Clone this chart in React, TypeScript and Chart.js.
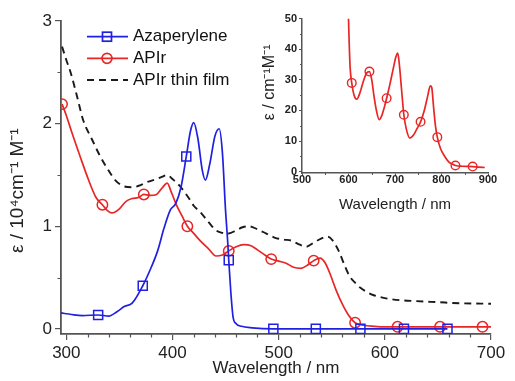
import React, { useEffect, useRef } from "react";
import { Chart, registerables } from "chart.js";

Chart.register(...registerables);

// ---------- Main chart data ----------
const azaX = [295, 305, 315, 330, 340, 348, 355, 362, 372, 380, 386, 392, 398, 403, 408, 413, 417, 420, 424, 428, 431, 435, 440, 444, 447, 450, 452, 453, 455, 457, 460, 465, 475, 495, 535, 577, 618, 659];
const azaY = [0.155, 0.14, 0.13, 0.135, 0.125, 0.17, 0.22, 0.25, 0.42, 0.6, 0.76, 0.98, 1.16, 1.22, 1.38, 1.68, 1.93, 2.01, 1.85, 1.55, 1.45, 1.6, 1.88, 1.95, 1.72, 1.15, 0.85, 0.67, 0.35, 0.12, 0.05, 0.025, 0.01, 0.0, 0.0, 0.0, 0.0, 0.0];
const azaMarkers = [330, 372, 413, 453, 495, 535, 577, 618, 659];

const apirX = [296, 300, 305, 313, 321, 328, 334, 339, 343, 350, 356, 362, 368, 373, 379, 385, 390, 395, 399, 404, 409, 414, 420, 426, 434, 441, 447, 453, 460, 467, 474, 480, 487, 493, 500, 507, 514, 521, 527, 533, 539, 544, 549, 554, 560, 566, 572, 580, 590, 600, 612, 652, 692, 700];
const apirY = [2.19, 2.08, 1.92, 1.68, 1.45, 1.28, 1.21, 1.15, 1.13, 1.17, 1.24, 1.27, 1.28, 1.31, 1.3, 1.31, 1.37, 1.42, 1.33, 1.2, 1.1, 1.0, 0.93, 0.86, 0.78, 0.71, 0.72, 0.76, 0.8, 0.82, 0.81, 0.77, 0.72, 0.68, 0.66, 0.64, 0.6, 0.59, 0.62, 0.665, 0.69, 0.64, 0.52, 0.38, 0.24, 0.13, 0.06, 0.035, 0.025, 0.02, 0.02, 0.02, 0.02, 0.02];
const apirMarkers = [296, 334, 373, 414, 453, 493, 533, 572, 612, 652, 692];

const filmX = [296, 300, 304, 310, 316, 324, 332, 340, 346, 354, 362, 370, 376, 385, 390, 395, 400, 407, 415, 420, 426, 434, 441, 447, 453, 460, 466, 472, 480, 488, 496, 505, 512, 520, 526, 533, 540, 546, 551, 557, 562, 567, 572, 577, 583, 589, 600, 614, 630, 650, 670, 700];
const filmY = [2.75, 2.62, 2.5, 2.27, 2.03, 1.85, 1.68, 1.54, 1.45, 1.39, 1.38, 1.4, 1.43, 1.46, 1.48, 1.5, 1.46, 1.39, 1.28, 1.2, 1.14, 1.04, 0.96, 0.935, 0.93, 0.96, 0.99, 1.0, 0.97, 0.93, 0.89, 0.87, 0.86, 0.82, 0.8, 0.84, 0.88, 0.9, 0.86, 0.75, 0.62, 0.51, 0.45, 0.4, 0.36, 0.33, 0.3, 0.28, 0.27, 0.26, 0.25, 0.245];

const mainXTicks = [300, 400, 500, 600, 700];
const mainXMinor = [320, 340, 360, 380, 420, 440, 460, 480, 520, 540, 560, 580, 620, 640, 660, 680];
const mainYTicks = [0, 1, 2, 3];
const mainYMinor = [0.5, 1.5, 2.5];

const seriesNames = ["Azaperylene", "APIr", "APIr thin film"];

// ---------- Inset data ----------
const insetX = [600, 601.5, 603.5, 607, 612, 618, 624, 632, 639, 645, 650, 655, 660, 666, 672, 677, 682, 689, 696, 702, 706, 710, 714, 719, 725, 732, 739, 747, 755, 763, 770, 776, 779, 783, 787, 791, 798, 807, 815, 823, 830, 845, 855, 867, 880, 893];
const insetY = [50, 42, 34, 29, 25, 23.7, 25.5, 29.5, 32.2, 32.7, 30, 24.5, 20, 17, 18.5, 21, 24, 28.5, 33.5, 37.5, 38.7, 34, 27, 18.6, 13.5, 11, 11.8, 14, 16.3, 20, 24.5, 28, 27.5, 21, 15, 11.3, 7.5, 5, 3.3, 2.5, 2.05, 1.8, 1.75, 1.7, 1.5, 1.4];
const insetMarkers = [607, 645, 682, 719, 755, 791, 830, 867];

const insetXTicks = [500, 600, 700, 800, 900];
const insetXMinor = [550, 650, 750, 850];
const insetYTicks = [0, 10, 20, 30, 40, 50];
const insetYMinor = [5, 15, 25, 35, 45];

const BLUE = "#2020e0";
const RED = "#e82626";
const BLACK = "#1a1a1a";
const AXIS = "#555555";
const FONT = "'Liberation Sans', Arial, sans-serif";

const toPts = (xs: number[], ys: number[]) => xs.map((x, i) => ({ x, y: ys[i] }));

const minorTicksPlugin = {
  id: "minorTicks",
  afterDraw(chart: any, _args: any, opts: any) {
    const { ctx } = chart;
    const xs = chart.scales.x;
    const ys = chart.scales.y;
    ctx.save();
    ctx.strokeStyle = opts.color || AXIS;
    ctx.lineWidth = opts.width || 1;
    ctx.beginPath();
    (opts.x || []).forEach((v: number) => {
      const px = Math.round(xs.getPixelForValue(v)) + 0.5;
      ctx.moveTo(px, xs.top);
      ctx.lineTo(px, xs.top + opts.len);
    });
    (opts.y || []).forEach((v: number) => {
      const py = Math.round(ys.getPixelForValue(v)) + 0.5;
      ctx.moveTo(ys.right, py);
      ctx.lineTo(ys.right - opts.len, py);
    });
    ctx.stroke();
    ctx.restore();
  },
};

const legendPlugin = {
  id: "customLegend",
  afterDraw(chart: any, _args: any, opts: any) {
    if (!opts || !opts.show) return;
    const { ctx } = chart;
    const x0 = 87, x1 = 128, xm = 107, xt = 133;
    const rows = [36.7, 58.3, 80];
    ctx.save();
    chart.data.datasets.forEach((ds: any, i: number) => {
      const y = rows[i];
      ctx.strokeStyle = ds.borderColor;
      ctx.lineWidth = ds.borderWidth;
      ctx.setLineDash(ds.borderDash || []);
      ctx.beginPath();
      ctx.moveTo(x0, y);
      ctx.lineTo(x1, y);
      ctx.stroke();
      ctx.setLineDash([]);
      if (ds.pointStyle === "rect") {
        ctx.strokeRect(xm - 4.5, y - 4.5, 9, 9);
      } else if (ds.pointStyle === "circle") {
        ctx.beginPath();
        ctx.arc(xm, y, 5, 0, Math.PI * 2);
        ctx.stroke();
      }
      ctx.fillStyle = "#111";
      ctx.font = `17px ${FONT}`;
      ctx.textBaseline = "middle";
      ctx.textAlign = "left";
      ctx.fillText(ds.label, xt, y);
    });
    ctx.restore();
  },
};

const fixTicks = (vals: number[]) => (s: any) => {
  s.ticks = vals.map((v) => ({ value: v }));
};

export default function App() {
  const mainRef = useRef<HTMLCanvasElement>(null);
  const insetRef = useRef<HTMLCanvasElement>(null);

  useEffect(() => {
    const mainChart = new Chart(mainRef.current as HTMLCanvasElement, {
      type: "line",
      data: {
        datasets: [
          {
            label: seriesNames[0],
            data: toPts(azaX, azaY),
            borderColor: BLUE,
            backgroundColor: "rgba(0,0,0,0)",
            borderWidth: 1.7,
            pointStyle: "rect",
            pointRadius: (c: any) => (azaMarkers.includes(c.raw?.x) ? 6.4 : 0),
            pointBorderWidth: 1.5,
            pointBorderColor: BLUE,
            pointBackgroundColor: "rgba(0,0,0,0)",
            cubicInterpolationMode: "monotone",
          },
          {
            label: seriesNames[1],
            data: toPts(apirX, apirY),
            borderColor: RED,
            backgroundColor: "rgba(0,0,0,0)",
            borderWidth: 1.7,
            pointStyle: "circle",
            pointRadius: (c: any) => (apirMarkers.includes(c.raw?.x) ? 5.2 : 0),
            pointBorderWidth: 1.5,
            pointBorderColor: RED,
            pointBackgroundColor: "rgba(0,0,0,0)",
            cubicInterpolationMode: "monotone",
          },
          {
            label: seriesNames[2],
            data: toPts(filmX, filmY),
            borderColor: BLACK,
            backgroundColor: "rgba(0,0,0,0)",
            borderWidth: 1.9,
            borderDash: [7, 5],
            pointRadius: 0,
            cubicInterpolationMode: "monotone",
          },
        ] as any,
      },
      options: {
        animation: false,
        responsive: false,
        devicePixelRatio: 1,
        layout: { padding: { left: 0, top: 21, right: 24, bottom: 0 } },
        plugins: {
          legend: { display: false },
          tooltip: { enabled: false },
          minorTicks: { x: mainXMinor, y: mainYMinor, len: 3.5, color: AXIS, width: 1.2 },
          customLegend: { show: true },
        } as any,
        scales: {
          x: {
            type: "linear",
            min: 295,
            max: 700,
            afterBuildTicks: fixTicks(mainXTicks),
            afterFit: (s: any) => { s.height = 47; },
            grid: { drawOnChartArea: false, drawTicks: true, tickLength: 6, color: AXIS, lineWidth: 1.2 },
            border: { display: true, color: AXIS, width: 1.8 },
            ticks: { padding: 3, color: "#222", font: { size: 17, family: FONT }, maxRotation: 0, autoSkip: false },
            title: { display: true, text: "Wavelength / nm", color: "#222", font: { size: 17, family: FONT }, padding: { top: 0, bottom: 2 } },
          },
          y: {
            type: "linear",
            min: -0.05,
            max: 3,
            afterBuildTicks: fixTicks(mainYTicks),
            afterFit: (s: any) => { s.width = 61; },
            grid: { drawOnChartArea: false, drawTicks: true, tickLength: 6, color: AXIS, lineWidth: 1.2 },
            border: { display: true, color: AXIS, width: 1.8 },
            ticks: { padding: 3, color: "#222", font: { size: 17, family: FONT }, autoSkip: false },
            title: { display: true, text: "ε / 10⁴cm⁻¹ M⁻¹     ", color: "#222", font: { size: 19, family: FONT }, padding: { top: 6, bottom: 0 } },
          },
        },
      },
      plugins: [minorTicksPlugin, legendPlugin],
    });

    const insetChart = new Chart(insetRef.current as HTMLCanvasElement, {
      type: "line",
      data: {
        datasets: [
          {
            label: seriesNames[1],
            data: toPts(insetX, insetY),
            borderColor: RED,
            backgroundColor: "rgba(0,0,0,0)",
            borderWidth: 1.7,
            pointStyle: "circle",
            pointRadius: (c: any) => (insetMarkers.includes(c.raw?.x) ? 4.3 : 0),
            pointBorderWidth: 1.4,
            pointBorderColor: RED,
            pointBackgroundColor: "rgba(0,0,0,0)",
            cubicInterpolationMode: "monotone",
          },
        ] as any,
      },
      options: {
        animation: false,
        responsive: false,
        devicePixelRatio: 1,
        layout: { padding: { left: 0, top: 18.5, right: 27, bottom: 0 } },
        plugins: {
          legend: { display: false },
          tooltip: { enabled: false },
          minorTicks: { x: insetXMinor, y: insetYMinor, len: 2, color: AXIS, width: 1 },
          customLegend: { show: false },
        } as any,
        scales: {
          x: {
            type: "linear",
            min: 500,
            max: 900,
            afterBuildTicks: fixTicks(insetXTicks),
            afterFit: (s: any) => { s.height = 42; },
            grid: { drawOnChartArea: false, drawTicks: true, tickLength: 3, color: AXIS, lineWidth: 1 },
            border: { display: true, color: AXIS, width: 1.5 },
            ticks: { padding: -3, color: "#222", font: { size: 11, family: FONT, weight: "bold" }, maxRotation: 0, autoSkip: false },
            title: { display: true, text: "Wavelength / nm", color: "#222", font: { size: 15, family: FONT }, padding: { top: 0, bottom: 1 } },
          },
          y: {
            type: "linear",
            min: -0.4,
            max: 50,
            afterBuildTicks: fixTicks(insetYTicks),
            afterFit: (s: any) => { s.width = 47; },
            grid: { drawOnChartArea: false, drawTicks: true, tickLength: 3, color: AXIS, lineWidth: 1 },
            border: { display: true, color: AXIS, width: 1.5 },
            ticks: { padding: 2, color: "#222", font: { size: 11, family: FONT, weight: "bold" }, autoSkip: false },
            title: { display: true, text: "      ε / cm⁻¹M⁻¹", color: "#222", font: { size: 16, family: FONT }, padding: { top: 5, bottom: 0 } },
          },
        },
      },
      plugins: [minorTicksPlugin, legendPlugin],
    });

    return () => {
      mainChart.destroy();
      insetChart.destroy();
    };
  }, []);

  return (
    <div style={{ position: "fixed", left: 0, top: 0, width: 515, height: 381, background: "#fff" }}>
      <canvas ref={mainRef} width={515} height={381} style={{ position: "absolute", left: 0, top: 0 }} />
      <canvas ref={insetRef} width={260} height={215} style={{ position: "absolute", left: 255, top: 0 }} />
    </div>
  );
}
